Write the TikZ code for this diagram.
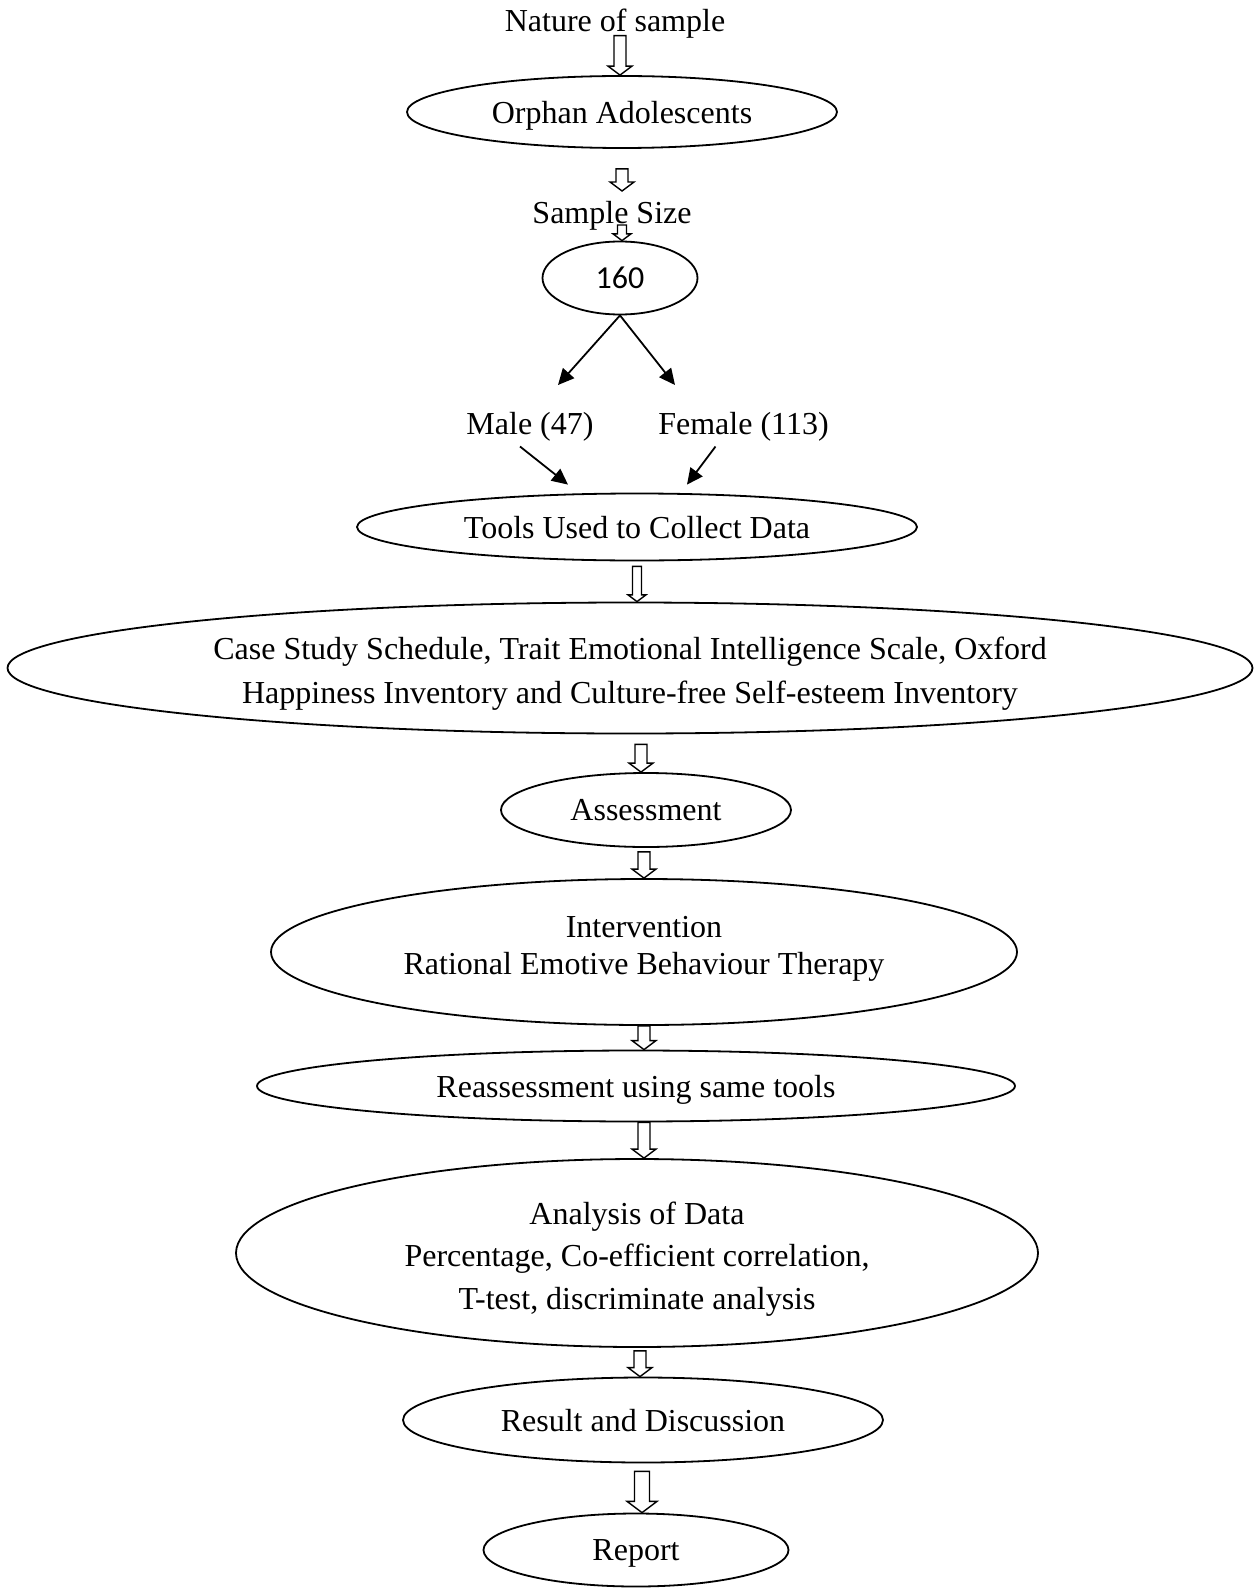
\documentclass[tikz,border=0pt]{standalone}
\usepackage{fontspec}
\setmainfont{Liberation Serif}
\newfontfamily\calibrifont{Carlito}
\usetikzlibrary{positioning}
\usetikzlibrary{calc}
\usetikzlibrary{shapes.geometric}
\usetikzlibrary{arrows.meta}

% hollow block arrow pointing down, #1 = size factor
\newcommand{\hollowdown}[3][1]{%
  \draw[line width=0.7pt] let \p1=#2, \p2=#3 in
    ({\x1-3pt*#1},\y1) -- ({\x1-3pt*#1},{\y2+4.5pt*#1}) -- ({\x1-6pt*#1},{\y2+4.5pt*#1}) -- (\x1,\y2)
    -- ({\x1+6pt*#1},{\y2+4.5pt*#1}) -- ({\x1+3pt*#1},{\y2+4.5pt*#1}) -- ({\x1+3pt*#1},\y1) -- cycle;}

\begin{document}
\begin{tikzpicture}[x=0.5pt,y=-0.5pt,font=\fontsize{16pt}{19pt}\selectfont,
  oval/.style={ellipse,draw,line width=0.9pt,inner sep=0pt,align=center},
  oneline/.style={oval,text depth=-1pt},
  plain/.style={inner sep=0pt,text depth=-1pt},
  tip/.style={line width=0.9pt,-{Triangle[length=8pt,width=7.5pt]}}]
	\useasboundingbox (0,0) rectangle (1255,1589);
	\node[plain] (nature) at (615,20) {Nature of sample};
	\node[oneline,minimum width=215pt,minimum height=36pt] (orphan) at (622,112) {Orphan Adolescents};
	\node[plain] (sample) at (612,212) {Sample Size};
	\node[oneline,minimum width=77.5pt,minimum height=36.5pt,text depth=-3pt] (n160) at (620,278) {\calibrifont 160};
	\node[plain] (male) at (530,423) {Male (47)};
	\node[plain] (female)[right = 32pt of male] {Female (113)};
	\node[oneline,minimum width=280pt,minimum height=33.5pt,text depth=-3pt] (tools) at (637,527) {Tools Used to Collect Data};
	\node[oval,minimum width=622.5pt,minimum height=65.5pt,font=\fontsize{16pt}{22pt}\selectfont] (case) at (630,668)
		{\rule{0pt}{16.5pt}Case Study Schedule, Trait Emotional Intelligence Scale, Oxford\\Happiness Inventory and Culture-free Self-esteem Inventory};
	\node[oneline,minimum width=145pt,minimum height=37pt] (assess) at (646,810) {Assessment};
	\node[oval,minimum width=373pt,minimum height=73pt,font=\fontsize{16pt}{18.5pt}\selectfont] (interv) at (644,952)
		{Intervention\\Rational Emotive Behaviour Therapy\rule[-6.5pt]{0pt}{0pt}};
	\node[oneline,minimum width=379pt,minimum height=35.5pt] (reassess) at (636,1086) {Reassessment using same tools};
	\node[oval,minimum width=401pt,minimum height=94pt,font=\fontsize{16pt}{21.25pt}\selectfont] (analysis) at (637,1253)
		{\rule{0pt}{17pt}Analysis of Data\\Percentage, Co-efficient correlation,\\T-test, discriminate analysis};
	\node[oneline,minimum width=240pt,minimum height=42.5pt] (result) at (643,1420) {Result and Discussion};
	\node[oneline,minimum width=152.5pt,minimum height=36.5pt] (report) at (636,1550) {Report};
	\coordinate (mtip) at (558,385);
	\coordinate (ftip) at (675,385);
	\draw[tip] (n160.south) -- (mtip);
	\draw[tip] (n160.south) -- (ftip);
	\draw[tip] ($(male.south)+(-10,12)$) -- ($(tools.north)+(-69,-8)$);
	\draw[tip] ($(female.south)+(-28,12)$) -- ($(tools.north)+(50,-8)$);
	\hollowdown{($(nature.south)+(5,4)$)}{(orphan.north)}
	\hollowdown{($(orphan.south)+(0,20)$)}{($(sample.north)+(0,-9.5)$)}
	\hollowdown[0.75]{($(sample.south)+(10,1.5)$)}{(n160.north)}
	\hollowdown[0.75]{($(tools.south)+(0,5)$)}{(case.north)}
	\hollowdown{($(case.south)+(11,10)$)}{(assess.north)}
	\hollowdown{($(assess.south)+(-2,4)$)}{(interv.north)}
	\hollowdown{(interv.south)}{(reassess.north)}
	\hollowdown{($(reassess.south)+(8,0)$)}{(analysis.north)}
	\hollowdown{($(analysis.south)+(3,3)$)}{(result.north)}
	\hollowdown[1.25]{($(result.south)+(-1,8)$)}{(report.north)}
\end{tikzpicture}
\end{document}
